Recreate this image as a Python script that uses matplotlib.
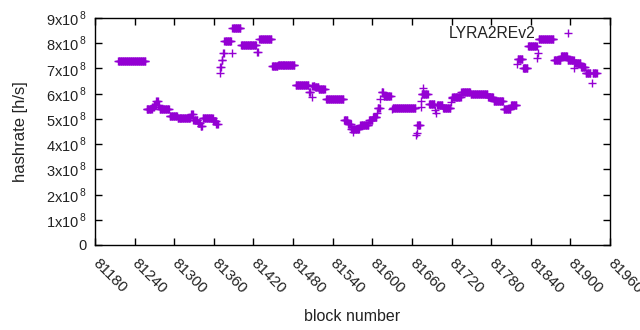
import numpy as np
import matplotlib
matplotlib.use("Agg")
import matplotlib.pyplot as plt
import matplotlib.transforms as mtransforms

# hashrate is constant inside each retarget window: (first block, last block, value in 1e8 h/s)
seg_start = [81215, 81258, 81267, 81270, 81273, 81276, 81278, 81293, 81305, 81326,
             81329, 81336, 81340, 81343, 81359, 81364, 81369, 81370, 81372, 81374,
             81376, 81387, 81388, 81401, 81426, 81429, 81448, 81457, 81484, 81504,
             81508, 81509, 81513, 81519, 81530, 81557, 81563, 81568, 81571, 81572,
             81582, 81595, 81601, 81607, 81608, 81612, 81614, 81617, 81630, 81631,
             81666, 81667, 81668, 81673, 81674, 81675, 81677, 81686, 81695, 81696,
             81698, 81707, 81719, 81720, 81721, 81735, 81749, 81775, 81784, 81799,
             81810, 81819, 81820, 81828, 81829, 81836, 81850, 81851, 81852, 81875,
             81886, 81896, 81906, 81907, 81916, 81923, 81932, 81934]
seg_end = [81256, 81266, 81269, 81272, 81275, 81277, 81292, 81304, 81324, 81328,
           81335, 81339, 81342, 81358, 81363, 81366, 81369, 81371, 81373, 81375,
           81386, 81387, 81400, 81424, 81427, 81447, 81456, 81482, 81503, 81506,
           81508, 81512, 81518, 81528, 81556, 81562, 81567, 81570, 81571, 81580,
           81594, 81600, 81606, 81607, 81611, 81612, 81616, 81628, 81630, 81665,
           81666, 81667, 81672, 81673, 81674, 81684, 81677, 81694, 81695, 81696,
           81706, 81718, 81719, 81720, 81734, 81748, 81774, 81783, 81798, 81809,
           81818, 81819, 81827, 81828, 81835, 81849, 81850, 81851, 81874, 81885,
           81895, 81905, 81906, 81915, 81922, 81930, 81932, 81940]
seg_value = [7.30, 5.40, 5.47, 5.55, 5.70, 5.55, 5.40, 5.12, 5.03, 5.18,
             4.95, 4.85, 4.70, 5.04, 4.92, 4.78, 6.80, 7.05, 7.35, 7.62,
             8.07, 7.62, 8.60, 7.91, 7.65, 8.15, 7.08, 7.15, 6.34, 6.05,
             5.87, 6.32, 6.25, 6.20, 5.79, 4.95, 4.80, 4.60, 4.48, 4.58,
             4.75, 4.95, 5.08, 5.23, 5.45, 5.80, 6.07, 5.90, 5.39, 5.42,
             4.36, 4.45, 4.75, 5.47, 5.70, 5.98, 6.22, 5.60, 5.35, 5.25,
             5.55, 5.45, 5.67, 5.83, 5.87, 6.07, 5.98, 5.88, 5.70, 5.40,
             5.55, 7.18, 7.37, 7.00, 7.02, 7.88, 7.42, 7.62, 8.15, 7.33,
             7.50, 7.33, 7.00, 7.20, 7.05, 6.80, 6.42, 6.80]

x_ticks = list(range(81180, 81961, 60))
y_ticks = list(range(0, 10))

blocks = np.concatenate([np.arange(s, e + 1) for s, e in zip(seg_start, seg_end)])
rates = np.concatenate([np.full(e - s + 1, v) for s, e, v in zip(seg_start, seg_end, seg_value)]) * 1e8

plt.rcParams["font.family"] = ["Liberation Sans", "DejaVu Sans"]
plt.rcParams["mathtext.fontset"] = "custom"
plt.rcParams["mathtext.rm"] = "Liberation Sans"
plt.rcParams["font.size"] = 10.5

fig = plt.figure(figsize=(6.4, 3.3), dpi=100)
ax = fig.add_axes([95 / 640, 85 / 330, 515 / 640, 227 / 330])

ax.plot(blocks, rates, "+", color="#9400d3", ms=6.2, mew=1.0, label="LYRA2REv2")

ax.set_xlim(81180, 81960)
ax.set_ylim(0, 9e8)
ax.set_xticks(x_ticks)
ax.set_xticklabels([str(t) for t in x_ticks], rotation=-45, ha="left", va="center",
                   rotation_mode="anchor", fontsize=11)
offset = mtransforms.ScaledTranslation(3 / 100, 0, fig.dpi_scale_trans)
for lbl in ax.get_xticklabels():
    lbl.set_transform(lbl.get_transform() + offset)
ax.set_yticks([v * 1e8 for v in y_ticks])
ax.set_yticklabels(["0"] + [f"{v}x10$^{{\\,8}}$" for v in y_ticks[1:]])
ax.tick_params(direction="in", length=5, width=1, top=True, right=True,
               colors="black", labelcolor="#222222")
ax.tick_params(axis="x", pad=12)
ax.tick_params(axis="y", pad=6)
for sp in ax.spines.values():
    sp.set_linewidth(1)

ax.set_xlabel("block number", labelpad=9, color="#222222", fontsize=11.5)
ax.set_ylabel("hashrate [h/s]", labelpad=13, color="#222222", fontsize=12)

ax.legend(loc="center right", bbox_to_anchor=((592 - 95) / 515, (245 - 34) / 227),
          markerfirst=False, frameon=False, handlelength=3.0, handletextpad=0.6,
          borderaxespad=0, borderpad=0, labelcolor="#222222", fontsize=11.3)

fig.savefig("out.png", dpi=100)
